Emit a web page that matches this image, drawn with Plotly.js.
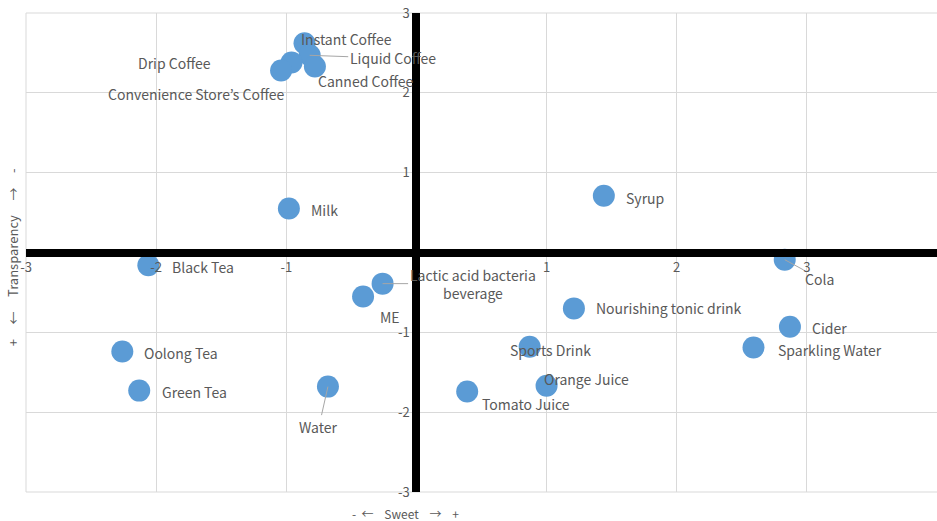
<!DOCTYPE html>
<html>
<head>
<meta charset="utf-8">
<script src="https://cdn.plot.ly/plotly-3.0.1.min.js"></script>
<style>html,body{margin:0;padding:0;background:#fff;}#chart{width:937px;height:521px;}</style>
</head>
<body>
<div id="chart"></div>
<script>
// Data
const names = ["Instant Coffee","Liquid Coffee","Canned Coffee","Drip Coffee","Convenience Store’s Coffee",
  "Milk","Syrup","Black Tea","Cola","Lactic acid bacteria<br>beverage","ME","Nourishing tonic drink",
  "Cider","Sparkling Water","Oolong Tea","Sports Drink","Green Tea","Water","Orange Juice","Tomato Juice"];
const sweet = [-0.86,-0.82,-0.78,-0.96,-1.04, -0.98,1.44,-2.06,2.83,-0.26,-0.41,1.21, 2.87,2.59,-2.26,0.87,-2.13,-0.68,1.00,0.39];
const transparency = [2.62,2.47,2.33,2.38,2.28, 0.55,0.71,-0.16,-0.09,-0.39,-0.55,-0.70, -0.93,-1.19,-1.24,-1.18,-1.73,-1.68,-1.67,-1.74];
const tickVals = [-3,-2,-1,1,2,3];
const tickText = ["-3","-2","-1","1","2","3"];

// label placement (pixel offsets from marker to label centre, leader line flag)
const labelOffsets = [
  [42,-4,false],[83,3,true],[51,15,false],[-117,0,false],[-85,24,false],
  [36,1,false],[41,2,false],[55,2,false],[35,19,true],[90,0,true],[27,21,false],[95,0,false],
  [40,1,false],[76,2,false],[59,2,false],[21,3,false],[55,1,false],[-9,40,true],[40,-7,false],[59,13,false]
];

const fam = "'Noto Sans CJK JP', 'Noto Sans', sans-serif";
const textFont = {family: fam, size: 14, color: "#595959"};

const annotations = names.map((n, i) => {
  const o = labelOffsets[i];
  const a = {x: sweet[i], y: transparency[i], xref: "x", yref: "y", text: n, font: textFont};
  if (o[2]) {
    Object.assign(a, {showarrow: true, ax: o[0], ay: o[1], arrowhead: 0, arrowwidth: 1,
      arrowcolor: "#a6a6a6", standoff: 0, startstandoff: 0});
  } else {
    Object.assign(a, {showarrow: false, xshift: o[0], yshift: -o[1]});
  }
  return a;
});

annotations.push({xref: "paper", yref: "paper", x: 0.417, y: 0, xanchor: "center", yanchor: "middle", yshift: -21,
  text: "-  ←    Sweet    →    +",
  showarrow: false, font: {family: fam, size: 12, color: "#595959"}});
annotations.push({xref: "paper", yref: "paper", x: 0, xanchor: "center", yanchor: "middle", xshift: -14, y: 0.49,
  text: "+     ←     Transparency     →     -",
  textangle: -90, showarrow: false, font: {family: fam, size: 13, color: "#595959"}});

const trace = {
  type: "scatter", mode: "markers", x: sweet, y: transparency,
  marker: {size: 22, color: "#5B9BD5", line: {width: 0}},
  hoverinfo: "text", text: names
};

const layout = {
  width: 937, height: 521,
  margin: {l: 26, r: 0, t: 13, b: 29},
  paper_bgcolor: "#ffffff", plot_bgcolor: "#ffffff",
  showlegend: false,
  font: {family: fam, size: 12, color: "#595959"},
  xaxis: {
    range: [-3, 4], tickmode: "array", tickvals: tickVals, ticktext: tickText,
    showgrid: true, gridcolor: "#d9d9d9", gridwidth: 1, zeroline: false,
    showline: true, linecolor: "#000000", linewidth: 8,
    anchor: "free", position: 0.5, ticks: "",
    tickfont: {family: fam, size: 13, color: "#595959"}
  },
  yaxis: {
    range: [-3, 3], tickmode: "array", tickvals: tickVals, ticktext: tickText,
    showgrid: true, gridcolor: "#d9d9d9", gridwidth: 1, zeroline: false,
    showline: true, linecolor: "#000000", linewidth: 8,
    anchor: "free", position: 3/7, ticks: "",
    tickfont: {family: fam, size: 13, color: "#595959"}
  },
  shapes: [
    {type: "line", xref: "paper", yref: "paper", x0: 0, x1: 0, y0: 0, y1: 1, line: {color: "#d9d9d9", width: 1}, layer: "below"},
    {type: "line", xref: "paper", yref: "paper", x0: 0, x1: 1, y0: 0, y1: 0, line: {color: "#d9d9d9", width: 1}, layer: "below"},
    {type: "line", xref: "paper", yref: "paper", x0: 0, x1: 1, y0: 1, y1: 1, line: {color: "#d9d9d9", width: 1}, layer: "below"}
  ],
  annotations: annotations
};

Plotly.newPlot("chart", [trace], layout, {displayModeBar: false, staticPlot: true});
</script>
</body>
</html>
